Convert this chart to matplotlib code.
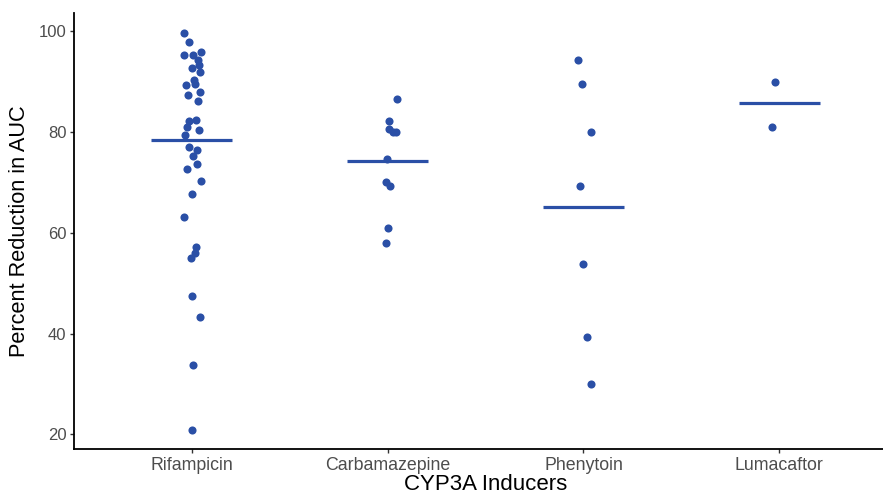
import matplotlib
matplotlib.use("Agg")
import matplotlib.pyplot as plt
import numpy as np

plt.rcParams["font.family"] = ["Liberation Sans", "DejaVu Sans"]

inducers = ["Rifampicin", "Carbamazepine", "Phenytoin", "Lumacaftor"]

rifampicin = [99.7, 97.9, 95.2, 95.2, 95.8, 94.2, 93.2, 92.6, 91.9, 90.3,
              89.6, 89.3, 88.0, 87.3, 86.2, 82.2, 82.3, 80.9, 80.3, 79.4,
              77.0, 76.5, 75.2, 73.7, 72.7, 70.3, 67.6, 63.1, 57.2, 56.0,
              54.9, 47.5, 43.2, 33.8, 20.8]
carbamazepine = [86.6, 82.1, 80.5, 79.9, 80.0, 74.6, 70.1, 69.2, 61.0, 57.9]
phenytoin = [94.2, 89.5, 80.0, 69.2, 53.9, 39.3, 29.9]
lumacaftor = [89.9, 81.0]

# horizontal summary line per inducer
summary = [78.4, 74.2, 65.1, 85.7]

# jitter offsets (category units)
rif_jit = [-0.04, -0.015, -0.04, 0.005, 0.05, 0.035, 0.04, 0.0, 0.045, 0.01,
           0.02, -0.03, 0.045, -0.02, 0.035, -0.015, 0.025, -0.025, 0.04, -0.035,
           -0.015, 0.03, 0.005, 0.03, -0.025, 0.05, 0.0, -0.04, 0.025, 0.02,
           -0.005, 0.0, 0.045, 0.005, 0.0]
carb_jit = [0.05, 0.007, 0.01, 0.03, 0.043, -0.002, -0.01, 0.015, 0.003, -0.007]
phen_jit = [-0.03, -0.007, 0.04, -0.02, 0.0, 0.02, 0.04]
luma_jit = [-0.025, -0.04]

groups = [rifampicin, carbamazepine, phenytoin, lumacaftor]
jitters = [rif_jit, carb_jit, phen_jit, luma_jit]

blue = "#2A4FA6"

fig = plt.figure(figsize=(8.83, 4.94), dpi=100)
ax = fig.add_axes([74 / 883, 45 / 494, 823 / 883, 436 / 494])

for i, (vals, jit) in enumerate(zip(groups, jitters)):
    xs = np.full(len(vals), i + 1.0) + np.array(jit)
    ax.scatter(xs, vals, s=34, color=blue, linewidths=0, zorder=3)
    ax.hlines(summary[i], i + 1 - 0.205, i + 1 + 0.205, color=blue, lw=2.3, zorder=2)

ax.set_xlim(0.4, 4.6)
ax.set_ylim(17.1, 103.6)
ax.set_xticks(range(1, 5))
ax.set_xticklabels(inducers)
ax.set_yticks([20, 40, 60, 80, 100])

for s in ["top", "right"]:
    ax.spines[s].set_visible(False)
for s in ["left", "bottom"]:
    ax.spines[s].set_linewidth(1.3)
    ax.spines[s].set_color("black")

ax.tick_params(axis="both", colors="#333333", labelcolor="#4D4D4D",
               length=3, width=1, pad=2.5)
ax.tick_params(axis="x", labelsize=12.8)
ax.tick_params(axis="y", labelsize=12)
ax.set_ylabel("Percent Reduction in AUC", fontsize=15.7, color="black", labelpad=6)
ax.set_xlabel("CYP3A Inducers", fontsize=16, color="black", labelpad=0)

fig.savefig("out.png", dpi=100)
